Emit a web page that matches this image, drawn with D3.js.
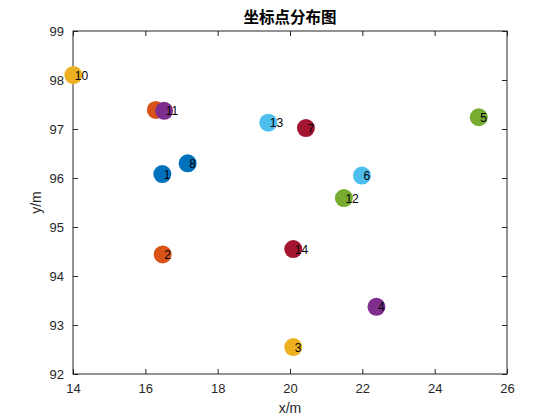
<!DOCTYPE html>
<html lang="zh">
<head>
<meta charset="UTF-8">
<title>坐标点分布图</title>
<script src="https://d3js.org/d3.v7.min.js"></script>
<style>
  body { margin: 0; background: #fff; }
</style>
</head>
<body>
<div id="chart"></div>
<script>
  // 点坐标
  const xs = [16.47, 16.48, 20.09, 22.39, 25.22, 21.99, 20.44, 17.17, 16.29, 14.01, 16.52, 21.49, 19.40, 20.09];
  const ys = [96.08, 94.44, 92.55, 93.37, 97.24, 96.05, 97.02, 96.30, 97.39, 98.10, 97.37, 95.59, 97.13, 94.55];
  const labels = ["1", "2", "3", "4", "5", "6", "7", "8", "9", "10", "11", "12", "13", "14"];
  const xTicks = [14, 16, 18, 20, 22, 24, 26];
  const yTicks = [92, 93, 94, 95, 96, 97, 98, 99];
  // MATLAB 默认颜色顺序
  const colors = ["#0072BD", "#D95319", "#EDB120", "#7E2F8E", "#77AC30", "#4DBEEE", "#A2142F"];

  const W = 560, H = 420;
  const margin = { top: 31, right: 53, bottom: 46, left: 73 };
  const width = W - margin.left - margin.right,
    height = H - margin.top - margin.bottom;

  const svg = d3.select("#chart").append("svg")
    .attr("width", W).attr("height", H)
    .style("font-family", "Arial, 'Liberation Sans', sans-serif");

  const g = svg.append("g").attr("transform", `translate(${margin.left},${margin.top})`);

  const x = d3.scaleLinear().domain([14, 26]).range([0, width]);
  const y = d3.scaleLinear().domain([92, 99]).range([height, 0]);

  const axisColor = "#262626";
  const fmt = d3.format("d");

  // 坐标轴（刻度朝内，上右镜像）
  const styleAxis = sel => {
    sel.select(".domain").remove();
    sel.selectAll(".tick line").attr("stroke", axisColor);
    sel.selectAll(".tick text").attr("fill", axisColor).style("font-size", "13px");
  };

  g.append("g").attr("transform", `translate(0,${height})`)
    .call(d3.axisBottom(x).tickValues(xTicks).tickFormat(fmt).tickSizeInner(-5).tickSizeOuter(0).tickPadding(10))
    .call(styleAxis);
  g.append("g")
    .call(d3.axisLeft(y).tickValues(yTicks).tickFormat(fmt).tickSizeInner(-5).tickSizeOuter(0).tickPadding(9))
    .call(styleAxis);
  g.append("g")
    .call(d3.axisTop(x).tickValues(xTicks).tickSizeInner(-5).tickSizeOuter(0).tickFormat(""))
    .call(styleAxis);
  g.append("g").attr("transform", `translate(${width},0)`)
    .call(d3.axisRight(y).tickValues(yTicks).tickSizeInner(-5).tickSizeOuter(0).tickFormat(""))
    .call(styleAxis);

  // 边框
  g.append("rect")
    .attr("width", width).attr("height", height)
    .attr("fill", "none").attr("stroke", axisColor).attr("stroke-width", 1);

  // 每个点：先画圆，再写编号（后画的圆会盖住前面的编号）
  xs.forEach((xv, i) => {
    g.append("circle")
      .attr("cx", x(xv)).attr("cy", y(ys[i]))
      .attr("r", 9)
      .attr("fill", colors[i % colors.length]);
    g.append("text")
      .attr("x", x(xv) + 1.5)
      .attr("y", y(ys[i]))
      .attr("dy", "0.38em")
      .style("font-size", "12px")
      .attr("fill", "#000")
      .text(labels[i]);
  });

  // 标题
  svg.append("text")
    .attr("x", margin.left + width / 2)
    .attr("y", 23)
    .attr("text-anchor", "middle")
    .style("font-family", "'Noto Sans CJK SC', sans-serif")
    .style("font-weight", "bold")
    .style("font-size", "15.5px")
    .attr("fill", "#000")
    .text("坐标点分布图");

  // 轴标签
  svg.append("text")
    .attr("x", margin.left + width / 2)
    .attr("y", 413)
    .attr("text-anchor", "middle")
    .style("font-size", "14px")
    .attr("fill", axisColor)
    .text("x/m");

  svg.append("text")
    .attr("transform", `translate(41,${margin.top + height / 2}) rotate(-90)`)
    .attr("text-anchor", "middle")
    .style("font-size", "14px")
    .attr("fill", axisColor)
    .text("y/m");
</script>
</body>
</html>
